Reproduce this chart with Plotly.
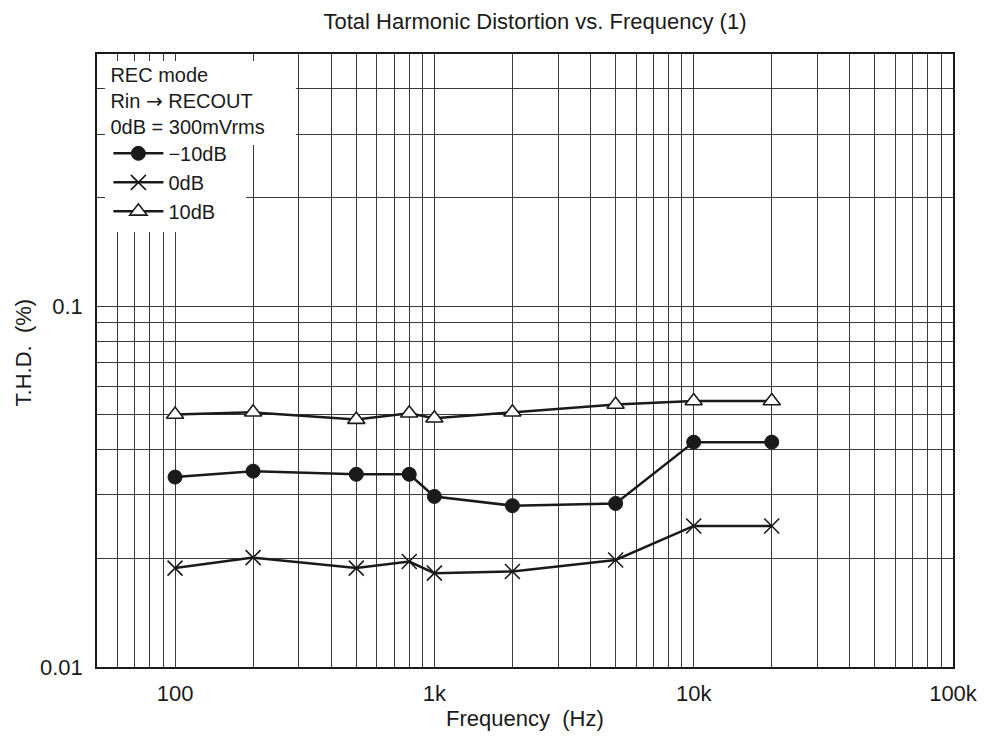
import math
import plotly.graph_objects as go

# ---- data ----
freq_hz = [100, 200, 500, 800, 1000, 2000, 5000, 10000, 20000]
thd_m10db = [0.0336, 0.0349, 0.0342, 0.0342, 0.0297, 0.0280, 0.0284, 0.0420, 0.0420]
thd_0db = [0.0188, 0.0201, 0.0188, 0.0196, 0.0182, 0.0184, 0.0198, 0.0246, 0.0246]
thd_10db = [0.0501, 0.0508, 0.0485, 0.0505, 0.0489, 0.0508, 0.0534, 0.0546, 0.0546]

series_names = ["\u221210dB", "0dB", "10dB"]
legend_header = ["REC mode",
                 "Rin <span style='font-family:DejaVu Sans'>\u2192</span> RECOUT",
                 "0dB = 300mVrms"]

x_grid = [m * 10 ** e for e in range(1, 5) for m in range(1, 10) if m * 10 ** e >= 50] + [100000]
x_labels = {100: "100", 1000: "1k", 10000: "10k", 100000: "100k"}
y_grid = [m / 100 for m in range(1, 10)] + [m / 10 for m in range(1, 6)]
y_labels = {0.01: "0.01", 0.1: "0.1"}

INK = "#1a1a1a"
GRID = "#3a3a3a"
FONT = "Liberation Sans, Arial, sans-serif"

fig = go.Figure()
line_style = dict(color=INK, width=2.5)
fig.add_trace(go.Scatter(
    x=freq_hz, y=thd_m10db, name=series_names[0], mode="lines+markers",
    line=line_style,
    marker=dict(symbol="circle", size=14, color=INK, line=dict(color=INK, width=1)),
))
fig.add_trace(go.Scatter(
    x=freq_hz, y=thd_0db, name=series_names[1], mode="lines+markers",
    line=line_style,
    marker=dict(symbol="x-thin-open", size=15, color=INK, line=dict(color=INK, width=1.6)),
))
fig.add_trace(go.Scatter(
    x=freq_hz, y=thd_10db, name=series_names[2], mode="lines+markers",
    line=line_style,
    marker=dict(symbol="triangle-up", size=15, color="white", line=dict(color=INK, width=1.6)),
))

fig.update_xaxes(
    type="log", range=[math.log10(50), 5],
    tickvals=x_grid, ticktext=[x_labels.get(v, "") for v in x_grid],
    showgrid=True, gridcolor=GRID, gridwidth=1,
    showline=True, linecolor=INK, linewidth=1.5, mirror=True,
    ticks="", ticklabelstandoff=6,
    tickfont=dict(size=22, color=INK, family=FONT),
    zeroline=False,
)
fig.update_yaxes(
    type="log", range=[-2, math.log10(0.5)],
    tickvals=y_grid, ticktext=[y_labels.get(round(v, 3), "") for v in y_grid],
    showgrid=True, gridcolor=GRID, gridwidth=1,
    showline=True, linecolor=INK, linewidth=1.5, mirror=True,
    ticks="", ticklabelstandoff=8,
    tickfont=dict(size=22, color=INK, family=FONT),
    zeroline=False,
)

# white backgrounds behind the legend block (irregular shape as in reference)
fig.add_shape(type="rect", xref="paper", yref="paper",
              x0=0.0093, x1=0.2323, y0=0.8515, y1=0.9886,
              fillcolor="white", line=dict(width=0), layer="above")
fig.add_shape(type="rect", xref="paper", yref="paper",
              x0=0.0093, x1=0.1742, y0=0.7096, y1=0.8520,
              fillcolor="white", line=dict(width=0), layer="above")

fig.update_layout(
    width=990, height=740,
    margin=dict(l=97, r=32, t=54, b=73),
    paper_bgcolor="white", plot_bgcolor="white",
    font=dict(family=FONT, color=INK, size=20),
    title=dict(text="Total Harmonic Distortion vs. Frequency (1)",
               x=535 / 990, xanchor="center", y=1 - 21 / 740, yanchor="middle",
               font=dict(size=22, color=INK, family=FONT)),
    showlegend=True,
    legend=dict(
        x=0.0133, y=0.997, xanchor="left", yanchor="top",
        bgcolor="rgba(0,0,0,0)", borderwidth=0,
        title=dict(text="<br>".join(legend_header), side="top",
                   font=dict(size=20, color=INK, family=FONT)),
        font=dict(size=20, color=INK, family=FONT),
        tracegroupgap=0, itemwidth=50,
    ),
    annotations=[
        dict(text="Frequency  (Hz)", xref="paper", yref="paper",
             x=0.5, y=-(718 - 667) / 613, xanchor="center", yanchor="middle",
             showarrow=False, font=dict(size=22, color=INK, family=FONT)),
        dict(text="T.H.D.  (%)", xref="paper", yref="paper",
             x=-(97 - 23) / 861, y=1 - (352 - 54) / 613, xanchor="center", yanchor="middle",
             textangle=-90, showarrow=False, font=dict(size=22, color=INK, family=FONT)),
    ],
)

fig.write_html("out.html", config={"displayModeBar": False},
               post_script="document.body.style.margin='0';")
